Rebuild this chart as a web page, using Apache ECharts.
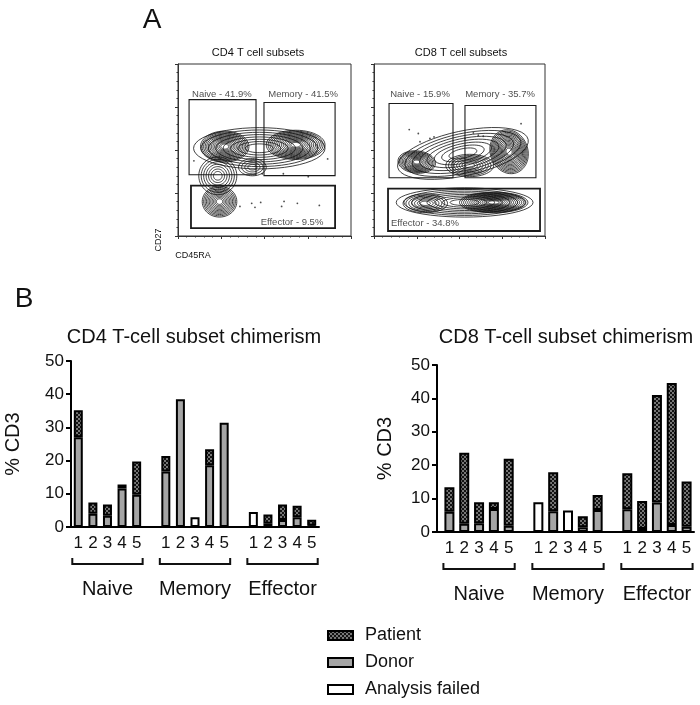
<!DOCTYPE html>
<html>
<head>
<meta charset="utf-8">
<script src="https://cdn.jsdelivr.net/npm/echarts@6/dist/echarts.min.js"></script>
<style>
  html, body { margin: 0; padding: 0; background: #fff; }
  #chart { width: 700px; height: 705px; }
</style>
</head>
<body>
<div id="chart"></div>
<script>
// ---------- panel B: chimerism bars (% CD3) ----------
const groups = ['Naive', 'Memory', 'Effector'];
const subjects = ['1', '2', '3', '4', '5'];

// 5 subjects per group, Naive | Memory | Effector
const cd4Donor   = [27, 4, 3.4, 11.6, 9.7,   16.7, 38.5, null, 18.6, 31.4,   null, 1.0, 2.1, 2.9, 0.4];
const cd4Patient = [8.2, 3.4, 3.4, 1.2, 10,  4.7, null, null, 4.8, null,     null, 2.8, 4.7, 3.5, 1.8];
const cd4Failed  = [null, null, null, null, null,  null, null, 2.9, null, null,  4.5, null, null, null, null];

const cd8Donor   = [6.1, 2.5, 2.6, 6.9, 1.9,   null, 6.2, null, 1.4, 6.6,   6.8, 0.9, 8.8, 2.1, 1.6];
const cd8Patient = [7.3, 21.2, 6.3, 2.0, 20,   null, 11.7, null, 3.3, 4.5,  10.8, 8.4, 32.2, 42.5, 13.5];
const cd8Failed  = [null, null, null, null, null,  8.9, null, 6.4, null, null,  null, null, null, null, null];

const yTicks = [0, 10, 20, 30, 40, 50];

// ---------- panel A: flow gates (axis units 0-100) ----------
const cd4Gates = [[6.4, 35.6, 45.1, 79.3], [49.7, 35.1, 90.8, 77.6], [7.5, 4.6, 90.8, 29.3]];
const cd4GateLabels = ['Naive - 41.9%', 'Memory - 41.5%', 'Effector - 9.5%'];
const cd4LabelPos = [[25.4, 82.4], [72.3, 82.4], [65.9, 8]];

const cd8Gates = [[8.8, 33.9, 46.2, 77], [53.2, 33.9, 94.7, 75.9], [8.2, 2.9, 97.1, 27.6]];
const cd8GateLabels = ['Naive - 15.9%', 'Memory - 35.7%', 'Effector - 34.8%'];
const cd8LabelPos = [[26.9, 82.4], [73.7, 82.4], [29.8, 7.5]];

// density blobs: [cx, cy, rx, ry, levels, tilt]
const cd4Blobs = [
  [47, 51, 38, 12, 8, 0],
  [27, 52, 14, 9, 14, 0],
  [68, 53, 17, 8.5, 14, 0],
  [24, 20, 10, 9, 11, 0],
  [23, 35, 11, 11, 7, 0],
  [43, 40, 8, 5, 4, 0]
];
const cd8Blobs = [
  [52, 48, 39, 13, 8, 12],
  [25, 43, 11, 6.5, 12, -5],
  [79, 49, 11, 13, 15, 20],
  [56, 41, 14, 6.5, 8, 0],
  [53, 19.5, 40, 8.5, 8, 0],
  [70, 19.5, 20, 6, 15, 0],
  [30, 19, 13, 5.5, 7, 0]
];
const cd4Events = [[42.6, 19], [44.5, 16.7], [47.8, 19.5], [59.9, 17.2], [61.3, 20.1], [69, 19], [81.7, 17.8],
  [35.8, 17.2], [9.2, 43.7], [86.5, 44.8], [75.3, 34.5], [60.9, 36.2], [48.7, 36.2]];
const cd8Events = [[20.6, 61.9], [25.9, 59.6], [32.7, 56.7], [35.1, 57.6], [26.9, 54.8], [58.1, 59.9],
  [61.0, 58.6], [63.9, 58.0], [86.0, 65.3], [53.2, 56.7]];

const FONT = "'Liberation Sans', Arial, Helvetica, sans-serif";
const INK = '#111';

// checkered fill for the patient share
const tile = document.createElement('canvas');
tile.width = tile.height = 4;
const tg = tile.getContext('2d');
tg.fillStyle = '#121212';
tg.fillRect(0, 0, 4, 4);
tg.fillStyle = '#767676';
tg.fillRect(0, 0, 2, 2);
tg.fillRect(2, 2, 2, 2);
const checker = { image: tile, repeat: 'repeat' };

// 17 slots: 5 bars, gap, 5 bars, gap, 5 bars
const categories = [];
groups.forEach((g, gi) => {
  if (gi > 0) categories.push('gap' + gi);
  subjects.forEach(s => categories.push(g + ' ' + s));
});

function withGaps(arr) {
  const out = [];
  arr.forEach((v, i) => {
    if (i > 0 && i % 5 === 0) out.push('-');
    out.push(v == null ? '-' : v);
  });
  return out;
}

function barSeries(idx, donor, patient, failed, width) {
  const base = { type: 'bar', xAxisIndex: idx, yAxisIndex: idx, stack: 'b' + idx, barWidth: width, silent: true };
  const border = { borderColor: '#000', borderWidth: 2 };
  return [
    { ...base, name: 'Donor', data: withGaps(donor), itemStyle: { ...border, color: '#a5a5a5' } },
    { ...base, name: 'Patient', data: withGaps(patient), itemStyle: { ...border, color: checker } },
    { ...base, name: 'Analysis failed', data: withGaps(failed), itemStyle: { ...border, color: '#fff' } }
  ];
}

function renderGate(params, api) {
  const p0 = api.coord([api.value(0), api.value(1)]);
  const p1 = api.coord([api.value(2), api.value(3)]);
  return {
    type: 'rect',
    shape: { x: Math.min(p0[0], p1[0]), y: Math.min(p0[1], p1[1]), width: Math.abs(p1[0] - p0[0]), height: Math.abs(p1[1] - p0[1]) },
    style: { fill: 'none', stroke: '#1a1a1a', lineWidth: params.dataIndex === 2 ? 1.8 : 1.1 }
  };
}

function renderBlob(params, api) {
  const cx = api.value(0), cy = api.value(1), rx = api.value(2), ry = api.value(3);
  const n = api.value(4), ang = api.value(5) * Math.PI / 180;
  const children = [];
  for (let k = 0; k < n; k++) {
    const s = 1 - 0.9 * k / n;
    const pts = [];
    for (let t = 0; t < 48; t++) {
      const a = t / 48 * Math.PI * 2;
      const ex = rx * s * Math.cos(a), ey = ry * s * Math.sin(a);
      pts.push(api.coord([cx + ex * Math.cos(ang) - ey * Math.sin(ang), cy + ex * Math.sin(ang) + ey * Math.cos(ang)]));
    }
    children.push({ type: 'polygon', shape: { points: pts }, style: { fill: 'none', stroke: '#111', lineWidth: 0.8 } });
  }
  return { type: 'group', children };
}

function flowSeries(idx, blobs, events, gates, labelPos, labels) {
  return [
    { type: 'custom', xAxisIndex: idx, yAxisIndex: idx, data: blobs, renderItem: renderBlob, silent: true, clip: true },
    { type: 'scatter', xAxisIndex: idx, yAxisIndex: idx, data: events, symbolSize: 1.8, itemStyle: { color: '#222' }, silent: true },
    { type: 'custom', xAxisIndex: idx, yAxisIndex: idx, data: gates, renderItem: renderGate, silent: true, z: 3 },
    {
      type: 'scatter', xAxisIndex: idx, yAxisIndex: idx, symbolSize: 1, itemStyle: { color: 'rgba(0,0,0,0)' }, silent: true,
      data: labelPos.map((p, i) => ({ value: p, name: labels[i] })),
      label: { show: true, position: 'inside', formatter: '{b}', fontSize: 9.5, color: '#222', fontFamily: FONT }
    }
  ];
}

function flowAxis(idx) {
  return {
    gridIndex: idx, type: 'value', min: 0, max: 100, interval: 25,
    axisLine: { show: true, lineStyle: { color: '#333', width: 1 } },
    axisTick: { show: true, length: 3, lineStyle: { color: '#333' } },
    minorTick: { show: true, splitNumber: 5, length: 1.5, lineStyle: { color: '#333' } },
    axisLabel: { show: false },
    splitLine: { show: false }
  };
}

function barXAxis(idx) {
  return {
    gridIndex: idx, type: 'category', data: categories,
    axisLine: { lineStyle: { color: '#000', width: 2 } },
    axisTick: { alignWithLabel: true, interval: 0, length: 5, lineStyle: { color: '#000', width: 2 } },
    axisLabel: {
      interval: 0, fontSize: 17, color: INK, fontFamily: FONT, margin: 8,
      formatter: v => (v.startsWith('gap') ? '' : v.split(' ')[1])
    }
  };
}

function barYAxis(idx, offset, nameGap) {
  return {
    gridIndex: idx, type: 'value', min: yTicks[0], max: yTicks[yTicks.length - 1], interval: 10, offset,
    name: '% CD3', nameLocation: 'middle', nameRotate: 90, nameGap,
    nameTextStyle: { fontSize: 20, color: INK, fontFamily: FONT },
    axisLine: { show: true, lineStyle: { color: '#000', width: 2 } },
    axisTick: { show: true, length: 5, lineStyle: { color: '#000', width: 2 } },
    axisLabel: { fontSize: 17, color: INK, fontFamily: FONT, margin: 7 },
    splitLine: { show: false }
  };
}

const chart = echarts.init(document.getElementById('chart'));

chart.setOption({
  animation: false,
  backgroundColor: '#fff',
  textStyle: { fontFamily: FONT },
  grid: [
    { left: 178, top: 64, width: 173, height: 172, show: true, borderColor: '#333', borderWidth: 1 },
    { left: 374, top: 64, width: 171, height: 172, show: true, borderColor: '#333', borderWidth: 1 },
    { left: 71, top: 361, width: 248, height: 166 },
    { left: 442, top: 365, width: 252, height: 167 }
  ],
  xAxis: [flowAxis(0), flowAxis(1), barXAxis(2), barXAxis(3)],
  yAxis: [flowAxis(0), flowAxis(1), barYAxis(2, 0, 48), barYAxis(3, 5, 42)],
  legend: {
    data: ['Patient', 'Donor', 'Analysis failed'],
    orient: 'vertical', left: 327, top: 626, padding: 0,
    icon: 'rect',
    itemWidth: 25, itemHeight: 9, itemGap: 8,
    selectedMode: false,
    textStyle: { fontSize: 18, color: INK, fontFamily: FONT, lineHeight: 19, padding: [0, 0, 0, 7] }
  },
  series: [
    ...flowSeries(0, cd4Blobs, cd4Events, cd4Gates, cd4LabelPos, cd4GateLabels),
    ...flowSeries(1, cd8Blobs, cd8Events, cd8Gates, cd8LabelPos, cd8GateLabels),
    ...barSeries(2, cd4Donor, cd4Patient, cd4Failed, 9),
    ...barSeries(3, cd8Donor, cd8Patient, cd8Failed, 10)
  ]
});

function text(x, y, str, size, extra) {
  return Object.assign({
    type: 'text', x, y,
    style: {
      text: str, fontSize: size, fontFamily: FONT, fill: INK,
      align: 'center', verticalAlign: 'middle', textAlign: 'center', textVerticalAlign: 'middle'
    }
  }, extra || {});
}

// brackets + group names under each bar chart, placed from the axes
function groupDecor(idx) {
  const y0 = chart.convertToPixel({ yAxisIndex: idx }, 0);
  const out = [];
  groups.forEach((g, gi) => {
    const a = chart.convertToPixel({ xAxisIndex: idx }, categories[gi * 6]);
    const b = chart.convertToPixel({ xAxisIndex: idx }, categories[gi * 6 + 4]);
    out.push({
      type: 'polyline',
      shape: { points: [[a - 6, y0 + 31], [a - 6, y0 + 37], [b + 6, y0 + 37], [b + 6, y0 + 31]] },
      style: { stroke: '#111', lineWidth: 2, fill: null }
    });
    out.push(text((a + b) / 2, y0 + 62, g, 20));
  });
  return out;
}

const y3 = chart.convertToPixel({ yAxisIndex: 3 }, 0);

chart.setOption({
  graphic: [
    text(152, 20, 'A', 28),
    text(24, 299, 'B', 28),
    text(258, 53, 'CD4 T cell subsets', 11),
    text(461, 53, 'CD8 T cell subsets', 11),
    text(159, 240, 'CD27', 9, { rotation: Math.PI / 2 }),
    text(193, 256, 'CD45RA', 9),
    text(194, 337, 'CD4 T-cell subset chimerism', 20),
    text(566, 337, 'CD8 T-cell subset chimerism', 20),
    { type: 'line', shape: { x1: 436, y1: y3, x2: 443, y2: y3 }, style: { stroke: '#000', lineWidth: 2 } },
    ...groupDecor(2),
    ...groupDecor(3)
  ]
});
</script>
</body>
</html>
